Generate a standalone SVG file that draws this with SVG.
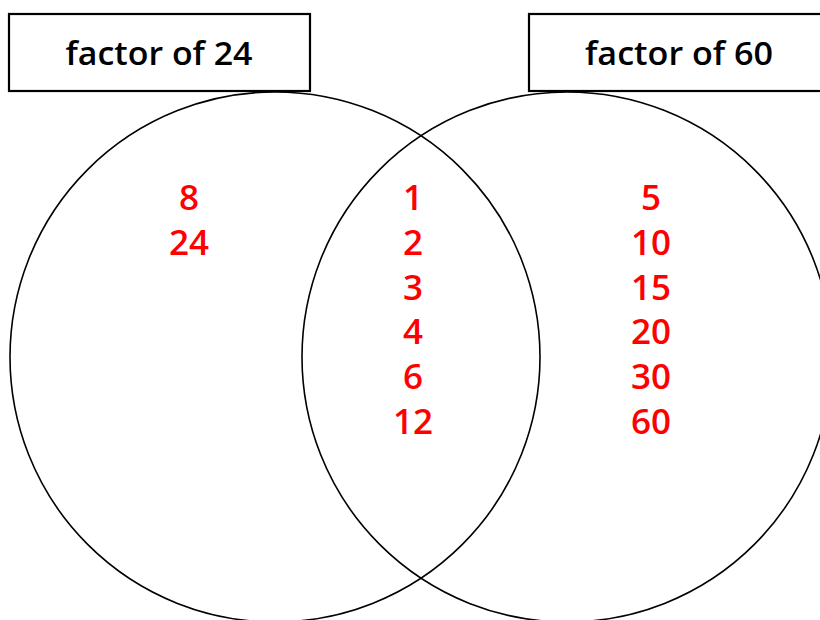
<svg xmlns="http://www.w3.org/2000/svg" width="820" height="620" viewBox="0 0 820 620">
<style>
.box{fill:#fff;stroke:#000;stroke-width:2.2}
.circ{fill:none;stroke:#000;stroke-width:1.6}
.lbl{font-family:"Open Sans","Liberation Sans",sans-serif;font-weight:600;font-size:32px;fill:#000;text-anchor:middle}
.num{font-family:"Open Sans","Liberation Sans",sans-serif;font-weight:600;font-size:35px;fill:#ff0000;text-anchor:middle}
</style>
<rect width="820" height="620" fill="#fff"/>
<g id="circle-24"><circle class="circ" cx="275" cy="357" r="265"/></g>
<g id="circle-60"><circle class="circ" cx="567" cy="357" r="265"/></g>
<g id="label-24"><rect class="box" x="9" y="14" width="301" height="77"/><text class="lbl" x="159" y="65" textLength="187" lengthAdjust="spacingAndGlyphs">factor of 24</text></g>
<g id="label-60"><rect class="box" x="529" y="14" width="300" height="77"/><text class="lbl" x="679" y="65" textLength="188" lengthAdjust="spacingAndGlyphs">factor of 60</text></g>
<g id="only-24">
<text class="num" x="189" y="210">8</text>
<text class="num" x="189" y="255">24</text>
</g>
<g id="both">
<text class="num" x="413" y="210">1</text>
<text class="num" x="413" y="255">2</text>
<text class="num" x="413" y="300">3</text>
<text class="num" x="413" y="344">4</text>
<text class="num" x="413" y="389">6</text>
<text class="num" x="413" y="434">12</text>
</g>
<g id="only-60">
<text class="num" x="651" y="210">5</text>
<text class="num" x="651" y="255">10</text>
<text class="num" x="651" y="300">15</text>
<text class="num" x="651" y="344">20</text>
<text class="num" x="651" y="389">30</text>
<text class="num" x="651" y="434">60</text>
</g>
<g id="connectors"></g>
</svg>
